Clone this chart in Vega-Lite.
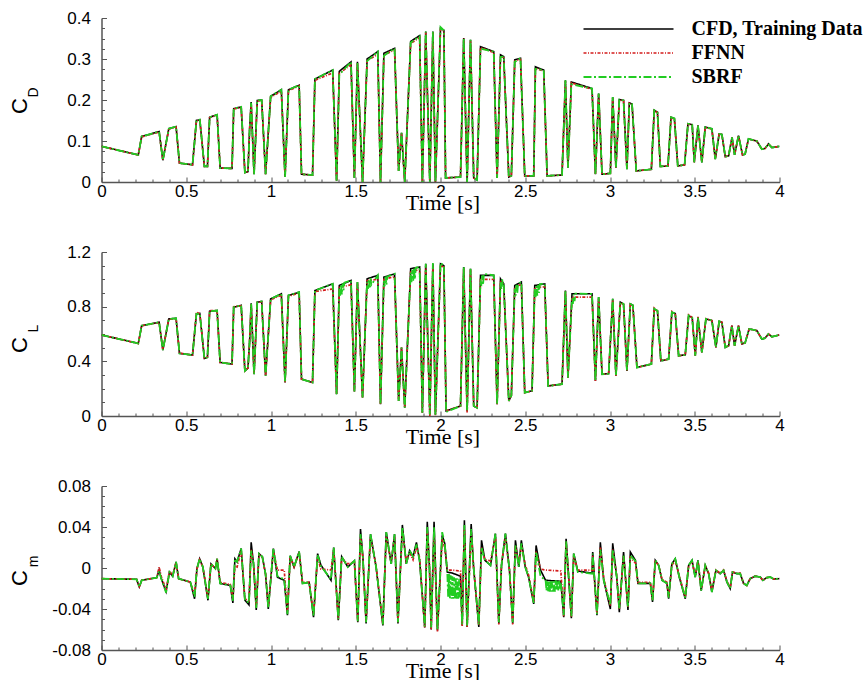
{
"$schema": "https://vega.github.io/schema/vega-lite/v6.json",
"background": "white",
"padding": {"left": 8.5, "top": 9, "right": 0, "bottom": 0},
"bounds": "flush",
"spacing": 70,
"config": {
  "view": {"stroke": null},
  "axis": {"domainColor": "#555555", "domainWidth": 1.5, "tickColor": "#555555", "tickWidth": 1, "labelColor": "black", "titleColor": "black", "grid": false, "labelFont": "Liberation Sans", "labelFontSize": 17, "titleFont": "Liberation Sans", "titleFontWeight": "normal", "labelFlush": false, "labelOverlap": false}
},
"datasets": {
"cd": [
{"t":0,"c":0.087,"f":0.087,"s":0.087},
{"t":0.217,"c":0.066,"f":0.066,"s":0.066},
{"t":0.237,"c":0.111,"f":0.11,"s":0.111},
{"t":0.34,"c":0.123,"f":0.122,"s":0.123},
{"t":0.362,"c":0.053,"f":0.054,"s":0.053},
{"t":0.397,"c":0.13,"f":0.129,"s":0.13},
{"t":0.44,"c":0.135,"f":0.134,"s":0.135},
{"t":0.46,"c":0.046,"f":0.046,"s":0.046},
{"t":0.537,"c":0.042,"f":0.042,"s":0.042},
{"t":0.56,"c":0.15,"f":0.149,"s":0.15},
{"t":0.58,"c":0.152,"f":0.151,"s":0.152},
{"t":0.607,"c":0.038,"f":0.038,"s":0.038},
{"t":0.625,"c":0.038,"f":0.038,"s":0.038},
{"t":0.638,"c":0.158,"f":0.157,"s":0.158},
{"t":0.682,"c":0.164,"f":0.163,"s":0.164},
{"t":0.7,"c":0.034,"f":0.034,"s":0.034},
{"t":0.77,"c":0.033,"f":0.033,"s":0.033},
{"t":0.78,"c":0.179,"f":0.178,"s":0.179},
{"t":0.824,"c":0.183,"f":0.182,"s":0.183},
{"t":0.846,"c":0.023,"f":0.023,"s":0.023},
{"t":0.864,"c":0.025,"f":0.025,"s":0.025},
{"t":0.874,"c":0.13,"f":0.13,"s":0.13},
{"t":0.883,"c":0.195,"f":0.19,"s":0.193},
{"t":0.9,"c":0.019,"f":0.019,"s":0.019},
{"t":0.919,"c":0.199,"f":0.197,"s":0.199},
{"t":0.945,"c":0.2,"f":0.199,"s":0.2},
{"t":0.968,"c":0.019,"f":0.019,"s":0.019},
{"t":0.998,"c":0.209,"f":0.207,"s":0.209},
{"t":1.061,"c":0.225,"f":0.221,"s":0.225},
{"t":1.083,"c":0.012,"f":0.012,"s":0.012},
{"t":1.103,"c":0.225,"f":0.223,"s":0.225},
{"t":1.166,"c":0.236,"f":0.234,"s":0.236},
{"t":1.18,"c":0.019,"f":0.019,"s":0.019},
{"t":1.245,"c":0.017,"f":0.017,"s":0.017},
{"t":1.259,"c":0.251,"f":0.248,"s":0.251},
{"t":1.364,"c":0.273,"f":0.266,"s":0.273},
{"t":1.387,"c":0.003,"f":0.004,"s":0.003},
{"t":1.403,"c":0.27,"f":0.265,"s":0.262},
{"t":1.472,"c":0.293,"f":0.286,"s":0.293},
{"t":1.492,"c":0.01,"f":0.01,"s":0.01},
{"t":1.51,"c":0.293,"f":0.29,"s":0.29},
{"t":1.54,"c":0.0,"f":0.0,"s":0.0},
{"t":1.567,"c":0.3,"f":0.296,"s":0.295},
{"t":1.63,"c":0.318,"f":0.311,"s":0.318},
{"t":1.646,"c":0.0,"f":0.0,"s":0.0},
{"t":1.666,"c":0.314,"f":0.31,"s":0.308},
{"t":1.729,"c":0.326,"f":0.322,"s":0.326},
{"t":1.753,"c":0.027,"f":0.027,"s":0.027},
{"t":1.77,"c":0.12,"f":0.12,"s":0.12},
{"t":1.789,"c":0.0,"f":0.0,"s":0.0},
{"t":1.824,"c":0.343,"f":0.338,"s":0.34},
{"t":1.877,"c":0.357,"f":0.352,"s":0.355},
{"t":1.893,"c":0.0,"f":0.0,"s":0.0},
{"t":1.913,"c":0.367,"f":0.365,"s":0.367},
{"t":1.937,"c":0.0,"f":0.0,"s":0.0},
{"t":1.955,"c":0.367,"f":0.365,"s":0.367},
{"t":1.97,"c":0.0,"f":0.0,"s":0.0},
{"t":2.0,"c":0.375,"f":0.372,"s":0.378},
{"t":2.02,"c":0.37,"f":0.368,"s":0.37},
{"t":2.03,"c":0.01,"f":0.01,"s":0.01},
{"t":2.118,"c":0.012,"f":0.012,"s":0.012},
{"t":2.137,"c":0.351,"f":0.35,"s":0.351},
{"t":2.157,"c":0.0,"f":0.0,"s":0.0},
{"t":2.177,"c":0.347,"f":0.345,"s":0.347},
{"t":2.196,"c":0.01,"f":0.01,"s":0.01},
{"t":2.216,"c":0.005,"f":0.005,"s":0.005},
{"t":2.236,"c":0.33,"f":0.328,"s":0.325},
{"t":2.314,"c":0.318,"f":0.316,"s":0.318},
{"t":2.334,"c":0.01,"f":0.01,"s":0.01},
{"t":2.354,"c":0.31,"f":0.307,"s":0.305},
{"t":2.373,"c":0.306,"f":0.303,"s":0.306},
{"t":2.403,"c":0.012,"f":0.012,"s":0.012},
{"t":2.418,"c":0.015,"f":0.015,"s":0.015},
{"t":2.438,"c":0.298,"f":0.295,"s":0.293},
{"t":2.472,"c":0.302,"f":0.299,"s":0.302},
{"t":2.497,"c":0.015,"f":0.015,"s":0.015},
{"t":2.55,"c":0.015,"f":0.015,"s":0.015},
{"t":2.56,"c":0.281,"f":0.278,"s":0.276},
{"t":2.609,"c":0.273,"f":0.27,"s":0.273},
{"t":2.629,"c":0.015,"f":0.015,"s":0.015},
{"t":2.717,"c":0.017,"f":0.017,"s":0.017},
{"t":2.737,"c":0.248,"f":0.246,"s":0.248},
{"t":2.752,"c":0.035,"f":0.035,"s":0.035},
{"t":2.772,"c":0.244,"f":0.242,"s":0.238},
{"t":2.894,"c":0.228,"f":0.226,"s":0.228},
{"t":2.914,"c":0.019,"f":0.019,"s":0.019},
{"t":2.933,"c":0.216,"f":0.214,"s":0.216},
{"t":2.953,"c":0.019,"f":0.019,"s":0.019},
{"t":3.002,"c":0.021,"f":0.021,"s":0.021},
{"t":3.016,"c":0.207,"f":0.205,"s":0.207},
{"t":3.035,"c":0.035,"f":0.035,"s":0.035},
{"t":3.055,"c":0.201,"f":0.2,"s":0.201},
{"t":3.08,"c":0.199,"f":0.198,"s":0.199},
{"t":3.1,"c":0.031,"f":0.031,"s":0.031},
{"t":3.114,"c":0.193,"f":0.192,"s":0.193},
{"t":3.13,"c":0.19,"f":0.189,"s":0.19},
{"t":3.155,"c":0.027,"f":0.027,"s":0.027},
{"t":3.244,"c":0.031,"f":0.031,"s":0.031},
{"t":3.261,"c":0.175,"f":0.174,"s":0.175},
{"t":3.28,"c":0.17,"f":0.169,"s":0.17},
{"t":3.297,"c":0.038,"f":0.038,"s":0.038},
{"t":3.342,"c":0.039,"f":0.039,"s":0.039},
{"t":3.36,"c":0.158,"f":0.157,"s":0.158},
{"t":3.38,"c":0.155,"f":0.154,"s":0.155},
{"t":3.4,"c":0.039,"f":0.039,"s":0.039},
{"t":3.44,"c":0.042,"f":0.042,"s":0.042},
{"t":3.46,"c":0.142,"f":0.141,"s":0.142},
{"t":3.485,"c":0.14,"f":0.139,"s":0.14},
{"t":3.497,"c":0.048,"f":0.048,"s":0.048},
{"t":3.519,"c":0.138,"f":0.137,"s":0.138},
{"t":3.542,"c":0.048,"f":0.048,"s":0.048},
{"t":3.562,"c":0.134,"f":0.133,"s":0.134},
{"t":3.601,"c":0.13,"f":0.129,"s":0.13},
{"t":3.621,"c":0.056,"f":0.056,"s":0.056},
{"t":3.644,"c":0.117,"f":0.117,"s":0.117},
{"t":3.66,"c":0.116,"f":0.116,"s":0.116},
{"t":3.68,"c":0.062,"f":0.062,"s":0.062},
{"t":3.7,"c":0.064,"f":0.064,"s":0.064},
{"t":3.72,"c":0.109,"f":0.109,"s":0.109},
{"t":3.735,"c":0.066,"f":0.066,"s":0.066},
{"t":3.758,"c":0.113,"f":0.113,"s":0.113},
{"t":3.782,"c":0.066,"f":0.066,"s":0.066},
{"t":3.797,"c":0.068,"f":0.068,"s":0.068},
{"t":3.817,"c":0.105,"f":0.105,"s":0.105},
{"t":3.866,"c":0.1,"f":0.1,"s":0.1},
{"t":3.896,"c":0.08,"f":0.08,"s":0.08},
{"t":3.915,"c":0.082,"f":0.082,"s":0.082},
{"t":3.935,"c":0.093,"f":0.093,"s":0.093},
{"t":3.955,"c":0.084,"f":0.084,"s":0.084},
{"t":4.0,"c":0.087,"f":0.087,"s":0.087}
],
"cl": [
{"t":0,"c":0.593,"f":0.593,"s":0.593},
{"t":0.217,"c":0.531,"f":0.531,"s":0.531},
{"t":0.237,"c":0.661,"f":0.66,"s":0.661},
{"t":0.34,"c":0.686,"f":0.684,"s":0.686},
{"t":0.362,"c":0.482,"f":0.485,"s":0.482},
{"t":0.397,"c":0.71,"f":0.708,"s":0.71},
{"t":0.44,"c":0.715,"f":0.713,"s":0.715},
{"t":0.46,"c":0.458,"f":0.46,"s":0.458},
{"t":0.537,"c":0.446,"f":0.446,"s":0.446},
{"t":0.56,"c":0.747,"f":0.76,"s":0.747},
{"t":0.58,"c":0.75,"f":0.748,"s":0.75},
{"t":0.607,"c":0.421,"f":0.425,"s":0.421},
{"t":0.625,"c":0.43,"f":0.43,"s":0.43},
{"t":0.638,"c":0.767,"f":0.772,"s":0.767},
{"t":0.682,"c":0.772,"f":0.77,"s":0.772},
{"t":0.7,"c":0.392,"f":0.392,"s":0.392},
{"t":0.77,"c":0.38,"f":0.38,"s":0.38},
{"t":0.78,"c":0.796,"f":0.8,"s":0.796},
{"t":0.824,"c":0.81,"f":0.805,"s":0.81},
{"t":0.846,"c":0.33,"f":0.33,"s":0.33},
{"t":0.864,"c":0.35,"f":0.35,"s":0.35},
{"t":0.874,"c":0.55,"f":0.55,"s":0.55},
{"t":0.883,"c":0.825,"f":0.82,"s":0.825},
{"t":0.9,"c":0.306,"f":0.306,"s":0.306},
{"t":0.919,"c":0.833,"f":0.83,"s":0.833},
{"t":0.945,"c":0.838,"f":0.835,"s":0.838},
{"t":0.968,"c":0.294,"f":0.294,"s":0.294},
{"t":0.998,"c":0.857,"f":0.85,"s":0.857},
{"t":1.061,"c":0.894,"f":0.885,"s":0.894},
{"t":1.083,"c":0.245,"f":0.245,"s":0.245},
{"t":1.103,"c":0.882,"f":0.876,"s":0.882},
{"t":1.166,"c":0.906,"f":0.9,"s":0.906},
{"t":1.18,"c":0.27,"f":0.27,"s":0.27},
{"t":1.245,"c":0.245,"f":0.245,"s":0.245},
{"t":1.259,"c":0.918,"f":0.91,"s":0.918},
{"t":1.364,"c":0.967,"f":0.93,"s":0.967},
{"t":1.387,"c":0.16,"f":0.16,"s":0.16},
{"t":1.403,"c":0.955,"f":0.94,"s":0.94},
{"t":1.408,"s":0.88},
{"t":1.413,"s":0.96},
{"t":1.418,"s":0.89},
{"t":1.423,"s":0.97},
{"t":1.428,"s":0.92},
{"t":1.433,"s":0.975},
{"t":1.472,"c":0.992,"f":0.96,"s":0.992},
{"t":1.492,"c":0.18,"f":0.18,"s":0.18},
{"t":1.51,"c":0.98,"f":0.97,"s":0.98},
{"t":1.54,"c":0.135,"f":0.135,"s":0.135},
{"t":1.567,"c":1.004,"f":0.99,"s":0.98},
{"t":1.572,"s":0.93},
{"t":1.577,"s":1.0},
{"t":1.582,"s":0.94},
{"t":1.587,"s":1.01},
{"t":1.592,"s":0.96},
{"t":1.63,"c":1.029,"f":1.0,"s":1.029},
{"t":1.646,"c":0.086,"f":0.086,"s":0.086},
{"t":1.666,"c":1.016,"f":1.0,"s":0.99},
{"t":1.671,"s":0.95},
{"t":1.676,"s":1.02},
{"t":1.681,"s":0.96},
{"t":1.686,"s":1.02},
{"t":1.729,"c":1.04,"f":1.02,"s":1.04},
{"t":1.753,"c":0.11,"f":0.11,"s":0.11},
{"t":1.77,"c":0.5,"f":0.5,"s":0.5},
{"t":1.789,"c":0.06,"f":0.06,"s":0.06},
{"t":1.824,"c":1.078,"f":1.06,"s":1.05},
{"t":1.829,"s":0.98},
{"t":1.834,"s":1.07},
{"t":1.839,"s":0.99},
{"t":1.844,"s":1.08},
{"t":1.849,"s":1.0},
{"t":1.854,"s":1.085},
{"t":1.877,"c":1.09,"f":1.07,"s":1.09},
{"t":1.893,"c":0.024,"f":0.024,"s":0.024},
{"t":1.913,"c":1.114,"f":1.1,"s":1.114},
{"t":1.937,"c":0.012,"f":-0.01,"s":0.012},
{"t":1.955,"c":1.114,"f":1.1,"s":1.12},
{"t":1.97,"c":0.01,"f":-0.01,"s":0.01},
{"t":2.0,"c":1.114,"f":1.1,"s":1.12},
{"t":2.02,"c":1.1,"f":1.09,"s":1.1},
{"t":2.033,"c":0.037,"f":0.037,"s":0.03},
{"t":2.118,"c":0.073,"f":0.073,"s":0.073},
{"t":2.137,"c":1.09,"f":1.08,"s":1.09},
{"t":2.157,"c":0.037,"f":0.02,"s":0.037},
{"t":2.177,"c":1.078,"f":1.07,"s":1.078},
{"t":2.196,"c":0.073,"f":0.073,"s":0.073},
{"t":2.216,"c":0.06,"f":0.06,"s":0.06},
{"t":2.236,"c":1.029,"f":1.0,"s":1.0},
{"t":2.241,"s":0.95},
{"t":2.246,"s":1.03},
{"t":2.251,"s":0.96},
{"t":2.256,"s":1.04},
{"t":2.314,"c":1.029,"f":1.0,"s":1.029},
{"t":2.334,"c":0.086,"f":0.086,"s":0.086},
{"t":2.354,"c":1.004,"f":0.99,"s":0.98},
{"t":2.359,"s":0.93},
{"t":2.364,"s":1.0},
{"t":2.369,"s":0.94},
{"t":2.373,"c":0.967,"f":0.96,"s":0.967},
{"t":2.403,"c":0.11,"f":0.11,"s":0.11},
{"t":2.418,"c":0.15,"f":0.15,"s":0.15},
{"t":2.438,"c":0.955,"f":0.94,"s":0.93},
{"t":2.443,"s":0.88},
{"t":2.448,"s":0.96},
{"t":2.453,"s":0.9},
{"t":2.458,"s":0.97},
{"t":2.477,"c":0.98,"f":0.965,"s":0.98},
{"t":2.497,"c":0.171,"f":0.171,"s":0.171},
{"t":2.54,"c":0.184,"f":0.184,"s":0.184},
{"t":2.556,"c":0.955,"f":0.94,"s":0.93},
{"t":2.561,"s":0.87},
{"t":2.566,"s":0.95},
{"t":2.571,"s":0.88},
{"t":2.576,"s":0.96},
{"t":2.581,"s":0.9},
{"t":2.586,"s":0.965},
{"t":2.615,"c":0.967,"f":0.945,"s":0.967},
{"t":2.635,"c":0.22,"f":0.22,"s":0.22},
{"t":2.717,"c":0.233,"f":0.233,"s":0.233},
{"t":2.737,"c":0.918,"f":0.91,"s":0.918},
{"t":2.752,"c":0.28,"f":0.28,"s":0.28},
{"t":2.776,"c":0.894,"f":0.87,"s":0.86},
{"t":2.781,"s":0.82},
{"t":2.786,"s":0.89},
{"t":2.791,"s":0.84},
{"t":2.796,"s":0.895},
{"t":2.894,"c":0.894,"f":0.87,"s":0.894},
{"t":2.914,"c":0.257,"f":0.257,"s":0.257},
{"t":2.933,"c":0.87,"f":0.86,"s":0.87},
{"t":2.953,"c":0.306,"f":0.306,"s":0.306},
{"t":2.992,"c":0.31,"f":0.31,"s":0.31},
{"t":3.016,"c":0.857,"f":0.85,"s":0.857},
{"t":3.035,"c":0.294,"f":0.294,"s":0.294},
{"t":3.061,"c":0.833,"f":0.83,"s":0.833},
{"t":3.08,"c":0.82,"f":0.815,"s":0.82},
{"t":3.1,"c":0.33,"f":0.33,"s":0.33},
{"t":3.12,"c":0.82,"f":0.815,"s":0.82},
{"t":3.135,"c":0.81,"f":0.805,"s":0.81},
{"t":3.159,"c":0.355,"f":0.355,"s":0.355},
{"t":3.244,"c":0.38,"f":0.38,"s":0.38},
{"t":3.261,"c":0.784,"f":0.79,"s":0.784},
{"t":3.28,"c":0.77,"f":0.768,"s":0.77},
{"t":3.3,"c":0.404,"f":0.404,"s":0.404},
{"t":3.346,"c":0.416,"f":0.416,"s":0.416},
{"t":3.365,"c":0.759,"f":0.765,"s":0.759},
{"t":3.385,"c":0.75,"f":0.748,"s":0.75},
{"t":3.405,"c":0.441,"f":0.441,"s":0.441},
{"t":3.444,"c":0.448,"f":0.448,"s":0.448},
{"t":3.464,"c":0.735,"f":0.74,"s":0.735},
{"t":3.485,"c":0.72,"f":0.72,"s":0.72},
{"t":3.503,"c":0.441,"f":0.441,"s":0.441},
{"t":3.519,"c":0.722,"f":0.725,"s":0.722},
{"t":3.542,"c":0.465,"f":0.465,"s":0.465},
{"t":3.566,"c":0.71,"f":0.712,"s":0.71},
{"t":3.601,"c":0.698,"f":0.698,"s":0.698},
{"t":3.625,"c":0.502,"f":0.502,"s":0.502},
{"t":3.644,"c":0.693,"f":0.693,"s":0.693},
{"t":3.66,"c":0.686,"f":0.686,"s":0.686},
{"t":3.68,"c":0.502,"f":0.502,"s":0.502},
{"t":3.7,"c":0.515,"f":0.515,"s":0.515},
{"t":3.719,"c":0.661,"f":0.661,"s":0.661},
{"t":3.735,"c":0.514,"f":0.514,"s":0.514},
{"t":3.758,"c":0.661,"f":0.661,"s":0.661},
{"t":3.778,"c":0.527,"f":0.527,"s":0.527},
{"t":3.797,"c":0.535,"f":0.535,"s":0.535},
{"t":3.821,"c":0.637,"f":0.637,"s":0.637},
{"t":3.866,"c":0.625,"f":0.625,"s":0.625},
{"t":3.896,"c":0.563,"f":0.563,"s":0.563},
{"t":3.915,"c":0.57,"f":0.57,"s":0.57},
{"t":3.935,"c":0.6,"f":0.6,"s":0.6},
{"t":3.955,"c":0.58,"f":0.58,"s":0.58},
{"t":4.0,"c":0.593,"f":0.593,"s":0.593}
],
"cm": [
{"t":0,"c":-0.0104,"f":-0.0104,"s":-0.0104},
{"t":0.207,"c":-0.011,"f":-0.011,"s":-0.011},
{"t":0.223,"c":-0.0185,"f":-0.018,"s":-0.0185},
{"t":0.237,"c":-0.012,"f":-0.012,"s":-0.012},
{"t":0.326,"c":-0.0094,"f":-0.0094,"s":-0.0094},
{"t":0.34,"c":-0.002,"f":0.001,"s":-0.003},
{"t":0.352,"c":-0.01,"f":-0.008,"s":-0.01},
{"t":0.381,"c":-0.023,"f":-0.021,"s":-0.024},
{"t":0.401,"c":-0.004,"f":-0.003,"s":-0.004},
{"t":0.42,"c":-0.008,"f":-0.007,"s":-0.008},
{"t":0.44,"c":0.006,"f":0.005,"s":0.006},
{"t":0.455,"c":-0.0104,"f":-0.0104,"s":-0.0104},
{"t":0.524,"c":-0.0137,"f":-0.0137,"s":-0.0137},
{"t":0.549,"c":-0.03,"f":-0.026,"s":-0.028},
{"t":0.563,"c":-0.0007,"f":-0.001,"s":-0.0007},
{"t":0.579,"c":0.009,"f":0.008,"s":0.009},
{"t":0.598,"c":0.001,"f":0.001,"s":0.001},
{"t":0.628,"c":-0.0315,"f":-0.029,"s":-0.03},
{"t":0.646,"c":0.004,"f":0.004,"s":0.004},
{"t":0.672,"c":-0.0005,"f":-0.0005,"s":-0.0005},
{"t":0.682,"c":0.009,"f":0.009,"s":0.009},
{"t":0.7,"c":-0.015,"f":-0.014,"s":-0.015},
{"t":0.76,"c":-0.017,"f":-0.016,"s":-0.017},
{"t":0.775,"c":-0.034,"f":-0.03,"s":-0.032},
{"t":0.787,"c":0.009,"f":0.002,"s":0.009},
{"t":0.8,"c":0.006,"f":0.001,"s":0.006},
{"t":0.824,"c":0.019,"f":0.017,"s":0.019},
{"t":0.846,"c":-0.0315,"f":-0.03,"s":-0.031},
{"t":0.87,"c":-0.036,"f":-0.032,"s":-0.034},
{"t":0.883,"c":0.025,"f":0.018,"s":0.017},
{"t":0.897,"c":0.004,"f":0.004,"s":0.004},
{"t":0.913,"c":-0.041,"f":-0.038,"s":-0.039},
{"t":0.929,"c":0.014,"f":0.013,"s":0.014},
{"t":0.949,"c":0.011,"f":0.01,"s":0.011},
{"t":0.968,"c":-0.006,"f":-0.006,"s":-0.006},
{"t":0.984,"c":-0.04,"f":-0.037,"s":-0.039},
{"t":1.014,"c":0.019,"f":0.017,"s":0.019},
{"t":1.038,"c":-0.009,"f":-0.002,"s":-0.008},
{"t":1.078,"c":-0.012,"f":-0.002,"s":-0.011},
{"t":1.097,"c":-0.046,"f":-0.043,"s":-0.045},
{"t":1.113,"c":0.012,"f":0.011,"s":0.012},
{"t":1.136,"c":0.001,"f":0.001,"s":0.001},
{"t":1.166,"c":0.016,"f":0.015,"s":0.016},
{"t":1.186,"c":-0.015,"f":-0.014,"s":-0.015},
{"t":1.225,"c":-0.014,"f":-0.014,"s":-0.014},
{"t":1.251,"c":-0.048,"f":-0.045,"s":-0.047},
{"t":1.275,"c":0.014,"f":0.01,"s":0.013},
{"t":1.294,"c":0.003,"f":-0.001,"s":0.002},
{"t":1.354,"c":-0.012,"f":-0.002,"s":-0.011},
{"t":1.37,"c":0.02,"f":0.018,"s":0.02},
{"t":1.397,"c":-0.051,"f":-0.05,"s":-0.05},
{"t":1.417,"c":0.011,"f":0.01,"s":0.011},
{"t":1.453,"c":0.001,"f":0.004,"s":0.001},
{"t":1.492,"c":0.007,"f":0.006,"s":0.007},
{"t":1.512,"c":-0.053,"f":-0.052,"s":-0.052},
{"t":1.528,"c":0.038,"f":0.03,"s":0.033},
{"t":1.542,"c":0.011,"f":0.01,"s":0.011},
{"t":1.561,"c":-0.054,"f":-0.053,"s":-0.053},
{"t":1.587,"c":0.033,"f":0.03,"s":0.033},
{"t":1.62,"c":0.001,"f":0.002,"s":0.001},
{"t":1.66,"c":-0.056,"f":-0.055,"s":-0.055},
{"t":1.68,"c":0.035,"f":0.03,"s":0.035},
{"t":1.709,"c":0.004,"f":0.006,"s":0.004},
{"t":1.729,"c":0.033,"f":0.03,"s":0.033},
{"t":1.749,"c":-0.054,"f":-0.053,"s":-0.053},
{"t":1.775,"c":0.042,"f":0.036,"s":0.04},
{"t":1.798,"c":0.004,"f":0.007,"s":0.004},
{"t":1.818,"c":0.017,"f":0.015,"s":0.017},
{"t":1.838,"c":0.011,"f":0.008,"s":0.011},
{"t":1.858,"c":0.025,"f":0.02,"s":0.023},
{"t":1.877,"c":0.007,"f":0.01,"s":0.007},
{"t":1.907,"c":-0.058,"f":-0.058,"s":-0.057},
{"t":1.922,"c":0.045,"f":0.035,"s":0.04},
{"t":1.935,"c":0.0,"f":0.003,"s":0.0},
{"t":1.945,"c":-0.06,"f":-0.06,"s":-0.058},
{"t":1.962,"c":0.045,"f":0.035,"s":0.04},
{"t":1.982,"c":-0.061,"f":-0.062,"s":-0.06},
{"t":2.01,"c":0.032,"f":0.028,"s":0.035},
{"t":2.025,"c":0.024,"f":0.02,"s":0.024},
{"t":2.04,"c":-0.004,"f":-0.002,"s":-0.004},
{"t":2.045,"s":-0.028},
{"t":2.05,"s":-0.006},
{"t":2.055,"s":-0.03},
{"t":2.06,"s":-0.007},
{"t":2.065,"s":-0.03},
{"t":2.07,"c":-0.005,"f":-0.002,"s":-0.008},
{"t":2.075,"s":-0.03},
{"t":2.08,"s":-0.009},
{"t":2.085,"s":-0.03},
{"t":2.09,"s":-0.01},
{"t":2.095,"s":-0.03},
{"t":2.1,"s":-0.01},
{"t":2.105,"s":-0.03},
{"t":2.11,"s":-0.011},
{"t":2.115,"s":-0.029},
{"t":2.118,"c":-0.008,"f":-0.003,"s":-0.02},
{"t":2.128,"c":-0.056,"f":-0.057,"s":-0.055},
{"t":2.141,"c":0.0465,"f":0.038,"s":0.042},
{"t":2.157,"c":-0.0575,"f":-0.058,"s":-0.056},
{"t":2.181,"c":0.043,"f":0.035,"s":0.038},
{"t":2.195,"c":0.001,"f":0.001,"s":0.001},
{"t":2.226,"c":-0.0575,"f":-0.056,"s":-0.055},
{"t":2.242,"c":0.027,"f":0.02,"s":0.02},
{"t":2.262,"c":0.0075,"f":0.008,"s":0.0075},
{"t":2.295,"c":0.0026,"f":0.007,"s":0.0026},
{"t":2.324,"c":0.0335,"f":0.03,"s":0.0335},
{"t":2.344,"c":-0.054,"f":-0.055,"s":-0.053},
{"t":2.36,"c":0.0026,"f":0.004,"s":0.0026},
{"t":2.383,"c":0.0335,"f":0.03,"s":0.0335},
{"t":2.407,"c":-0.0023,"f":-0.002,"s":-0.0023},
{"t":2.426,"c":-0.054,"f":-0.055,"s":-0.053},
{"t":2.442,"c":0.027,"f":0.022,"s":0.022},
{"t":2.462,"c":0.001,"f":0.004,"s":0.001},
{"t":2.477,"c":0.027,"f":0.022,"s":0.024},
{"t":2.5,"c":0.001,"f":0.003,"s":0.001},
{"t":2.52,"c":-0.009,"f":-0.007,"s":-0.009},
{"t":2.55,"c":-0.035,"f":-0.033,"s":-0.034},
{"t":2.564,"c":0.022,"f":0.016,"s":0.016},
{"t":2.59,"c":-0.002,"f":-0.001,"s":-0.008},
{"t":2.62,"c":-0.012,"f":-0.002,"s":-0.012},
{"t":2.625,"s":-0.022},
{"t":2.63,"s":-0.013},
{"t":2.635,"s":-0.023},
{"t":2.64,"s":-0.013},
{"t":2.645,"s":-0.023},
{"t":2.65,"s":-0.013},
{"t":2.655,"s":-0.023},
{"t":2.66,"s":-0.013},
{"t":2.665,"s":-0.023},
{"t":2.67,"s":-0.013},
{"t":2.675,"s":-0.023},
{"t":2.68,"s":-0.012},
{"t":2.685,"s":-0.022},
{"t":2.69,"s":-0.012},
{"t":2.695,"s":-0.022},
{"t":2.7,"s":-0.012},
{"t":2.705,"s":-0.021},
{"t":2.71,"c":-0.013,"f":-0.003,"s":-0.015},
{"t":2.727,"c":-0.048,"f":-0.047,"s":-0.046},
{"t":2.741,"c":0.0286,"f":0.025,"s":0.026},
{"t":2.756,"c":-0.009,"f":-0.008,"s":-0.009},
{"t":2.772,"c":-0.049,"f":-0.048,"s":-0.047},
{"t":2.786,"c":0.014,"f":0.011,"s":0.014},
{"t":2.81,"c":-0.003,"f":-0.002,"s":-0.004},
{"t":2.894,"c":-0.005,"f":-0.002,"s":-0.0055},
{"t":2.898,"c":0.0156,"f":0.012,"s":0.014},
{"t":2.923,"c":-0.046,"f":-0.045,"s":-0.045},
{"t":2.943,"c":0.025,"f":0.02,"s":0.018},
{"t":2.963,"c":-0.012,"f":-0.01,"s":-0.012},
{"t":3.002,"c":-0.04,"f":-0.037,"s":-0.036},
{"t":3.016,"c":0.024,"f":0.018,"s":0.018},
{"t":3.04,"c":-0.009,"f":-0.008,"s":-0.009},
{"t":3.055,"c":-0.043,"f":-0.04,"s":-0.04},
{"t":3.08,"c":0.0156,"f":0.012,"s":0.012},
{"t":3.106,"c":-0.041,"f":-0.038,"s":-0.038},
{"t":3.12,"c":0.0156,"f":0.01,"s":0.012},
{"t":3.15,"c":0.0075,"f":0.005,"s":0.007},
{"t":3.165,"c":-0.015,"f":-0.014,"s":-0.015},
{"t":3.238,"c":-0.015,"f":-0.014,"s":-0.015},
{"t":3.251,"c":-0.033,"f":-0.031,"s":-0.032},
{"t":3.267,"c":0.0075,"f":0.006,"s":0.0075},
{"t":3.287,"c":0.0026,"f":0.003,"s":0.0026},
{"t":3.307,"c":-0.012,"f":-0.011,"s":-0.012},
{"t":3.336,"c":-0.015,"f":-0.014,"s":-0.015},
{"t":3.346,"c":-0.03,"f":-0.028,"s":-0.029},
{"t":3.365,"c":0.004,"f":0.003,"s":0.004},
{"t":3.385,"c":0.009,"f":0.007,"s":0.009},
{"t":3.409,"c":-0.009,"f":-0.008,"s":-0.009},
{"t":3.444,"c":-0.03,"f":-0.028,"s":-0.029},
{"t":3.464,"c":0.0026,"f":0.002,"s":0.0026},
{"t":3.484,"c":0.0075,"f":0.006,"s":0.0075},
{"t":3.503,"c":-0.009,"f":-0.008,"s":-0.009},
{"t":3.519,"c":0.0075,"f":0.007,"s":0.0075},
{"t":3.538,"c":-0.022,"f":-0.021,"s":-0.022},
{"t":3.562,"c":0.0026,"f":0.002,"s":0.0026},
{"t":3.582,"c":-0.0055,"f":-0.005,"s":-0.0055},
{"t":3.601,"c":-0.0234,"f":-0.022,"s":-0.0234},
{"t":3.625,"c":-0.0023,"f":-0.002,"s":-0.0023},
{"t":3.65,"c":-0.0055,"f":-0.005,"s":-0.0055},
{"t":3.67,"c":-0.0023,"f":-0.002,"s":-0.0023},
{"t":3.69,"c":-0.0137,"f":-0.013,"s":-0.0137},
{"t":3.709,"c":-0.02,"f":-0.019,"s":-0.02},
{"t":3.723,"c":-0.004,"f":-0.004,"s":-0.004},
{"t":3.748,"c":-0.0055,"f":-0.005,"s":-0.0055},
{"t":3.768,"c":-0.0055,"f":-0.005,"s":-0.0055},
{"t":3.788,"c":-0.015,"f":-0.015,"s":-0.015},
{"t":3.807,"c":-0.017,"f":-0.017,"s":-0.017},
{"t":3.827,"c":-0.0104,"f":-0.0104,"s":-0.0104},
{"t":3.856,"c":-0.008,"f":-0.008,"s":-0.008},
{"t":3.886,"c":-0.0088,"f":-0.0088,"s":-0.0088},
{"t":3.902,"c":-0.012,"f":-0.012,"s":-0.012},
{"t":3.925,"c":-0.0094,"f":-0.0094,"s":-0.0094},
{"t":3.945,"c":-0.0088,"f":-0.0088,"s":-0.0088},
{"t":3.965,"c":-0.0107,"f":-0.0107,"s":-0.0107},
{"t":4.0,"c":-0.0104,"f":-0.0104,"s":-0.0104}
]
},
"vconcat": [
{
 "width": 678, "height": 164,
 "data": {"name": "cd"},
 "layer": [
  {
   "transform": [{"fold": ["c","f","s"], "as": ["k","v"]}, {"filter": "isValid(datum.v)"}],
   "mark": {"type": "line", "clip": true},
   "encoding": {
    "x": {"field": "t", "type": "quantitative", "scale": {"domain": [0,4], "nice": false}, "axis": {"values": [0,0.5,1,1.5,2,2.5,3,3.5,4], "labelExpr": "format(datum.value, '~g')", "tickSize": -5, "labelPadding": 6, "title": "Time [s]", "titleFont": "Liberation Serif", "titleFontSize": 22, "titleX": 341, "titleY": 27, "titleAlign": "center", "titleBaseline": "alphabetic"}},
    "y": {"field": "v", "type": "quantitative", "scale": {"domain": [0,0.4], "nice": false}, "axis": {"values": [0,0.1,0.2,0.3,0.4], "labelExpr": "format(datum.value, '~g')", "tickSize": -5, "labelPadding": 16, "title": "C", "titleFontSize": 22, "titleX": -82, "titleY": 87.5, "titleAlign": "center", "titleBaseline": "middle"}},
    "color": {"field": "k", "type": "nominal", "scale": {"domain": ["c","f","s"], "range": ["#000000","#d41c1c","#22cc22"]}, "legend": {"title": null, "orient": "none", "legendX": 516, "legendY": 0, "symbolType": "M-4.5,0H4.5", "symbolSize": 400, "symbolStrokeWidth": 2.5, "labelFont": "Liberation Serif", "labelFontWeight": "bold", "labelFontSize": 20, "labelColor": "black", "labelOffset": 52, "labelLimit": 0, "rowPadding": 3, "labelExpr": "datum.label == 'c' ? 'CFD, Training Data' : datum.label == 'f' ? 'FFNN' : 'SBRF'"}},
    "strokeDash": {"field": "k", "type": "nominal", "scale": {"domain": ["c","f","s"], "range": [[1,0],[3,1.5,1,1.5],[8,2.5,2,2.5]]}, "legend": {"title": null, "orient": "none", "legendX": 516, "legendY": 0, "symbolType": "M-4.5,0H4.5", "symbolSize": 400, "symbolStrokeWidth": 2.5, "labelFont": "Liberation Serif", "labelFontWeight": "bold", "labelFontSize": 20, "labelColor": "black", "labelOffset": 52, "labelLimit": 0, "rowPadding": 3, "labelExpr": "datum.label == 'c' ? 'CFD, Training Data' : datum.label == 'f' ? 'FFNN' : 'SBRF'"}},
    "strokeWidth": {"field": "k", "type": "nominal", "scale": {"domain": ["c","f","s"], "range": [1.6,1.8,2.5]}, "legend": null}
   }
  },
  {
   "mark": {"type": "point", "opacity": 0},
   "encoding": {
    "x": {"field": "t", "type": "quantitative", "scale": {"domain": [0,4], "nice": false}, "axis": {"orient": "bottom", "values": [0.1,0.2,0.3,0.4,0.6,0.7,0.8,0.9,1.1,1.2,1.3,1.4,1.6,1.7,1.8,1.9,2.1,2.2,2.3,2.4,2.6,2.7,2.8,2.9,3.1,3.2,3.3,3.4,3.6,3.7,3.8,3.9], "labels": false, "domain": false, "tickSize": -3, "title": null}},
    "y": {"field": "c", "type": "quantitative", "scale": {"domain": [0,0.4], "nice": false}, "axis": {"orient": "left", "values": [0.025,0.05,0.075,0.125,0.15,0.175,0.225,0.25,0.275,0.325,0.35,0.375], "labels": false, "domain": false, "tickSize": -3, "title": "D", "titleFontSize": 14, "titleX": -68.5, "titleY": 74, "titleAlign": "center", "titleBaseline": "middle"}}
   }
  }
 ],
 "resolve": {"axis": {"x": "independent", "y": "independent"}}
},
{
 "width": 678, "height": 164,
 "data": {"name": "cl"},
 "layer": [
  {
   "transform": [{"fold": ["c","f","s"], "as": ["k","v"]}, {"filter": "isValid(datum.v)"}],
   "mark": {"type": "line", "clip": true},
   "encoding": {
    "x": {"field": "t", "type": "quantitative", "scale": {"domain": [0,4], "nice": false}, "axis": {"values": [0,0.5,1,1.5,2,2.5,3,3.5,4], "labelExpr": "format(datum.value, '~g')", "tickSize": -5, "labelPadding": 6, "title": "Time [s]", "titleFont": "Liberation Serif", "titleFontSize": 22, "titleX": 341, "titleY": 27, "titleAlign": "center", "titleBaseline": "alphabetic"}},
    "y": {"field": "v", "type": "quantitative", "scale": {"domain": [0,1.2], "nice": false}, "axis": {"values": [0,0.4,0.8,1.2], "labelExpr": "format(datum.value, '~g')", "tickSize": -5, "labelPadding": 16, "title": "C", "titleFontSize": 22, "titleX": -82, "titleY": 92.5, "titleAlign": "center", "titleBaseline": "middle"}},
    "color": {"field": "k", "type": "nominal", "scale": {"domain": ["c","f","s"], "range": ["#000000","#d41c1c","#22cc22"]}},
    "strokeDash": {"field": "k", "type": "nominal", "scale": {"domain": ["c","f","s"], "range": [[1,0],[3,1.5,1,1.5],[8,2.5,2,2.5]]}},
    "strokeWidth": {"field": "k", "type": "nominal", "scale": {"domain": ["c","f","s"], "range": [1.6,1.8,2.5]}, "legend": null}
   }
  },
  {
   "mark": {"type": "point", "opacity": 0},
   "encoding": {
    "x": {"field": "t", "type": "quantitative", "scale": {"domain": [0,4], "nice": false}, "axis": {"orient": "bottom", "values": [0.1,0.2,0.3,0.4,0.6,0.7,0.8,0.9,1.1,1.2,1.3,1.4,1.6,1.7,1.8,1.9,2.1,2.2,2.3,2.4,2.6,2.7,2.8,2.9,3.1,3.2,3.3,3.4,3.6,3.7,3.8,3.9], "labels": false, "domain": false, "tickSize": -3, "title": null}},
    "y": {"field": "c", "type": "quantitative", "scale": {"domain": [0,1.2], "nice": false}, "axis": {"orient": "left", "values": [0.1,0.2,0.3,0.5,0.6,0.7,0.9,1.0,1.1], "labels": false, "domain": false, "tickSize": -3, "title": "L", "titleFontSize": 14, "titleX": -68.5, "titleY": 76, "titleAlign": "center", "titleBaseline": "middle"}}
   }
  }
 ],
 "resolve": {"axis": {"x": "independent", "y": "independent"}}
},
{
 "width": 678, "height": 164,
 "data": {"name": "cm"},
 "layer": [
  {
   "transform": [{"fold": ["c","f","s"], "as": ["k","v"]}, {"filter": "isValid(datum.v)"}],
   "mark": {"type": "line", "clip": true},
   "encoding": {
    "x": {"field": "t", "type": "quantitative", "scale": {"domain": [0,4], "nice": false}, "axis": {"values": [0,0.5,1,1.5,2,2.5,3,3.5,4], "labelExpr": "format(datum.value, '~g')", "tickSize": -5, "labelPadding": 6, "title": "Time [s]", "titleFont": "Liberation Serif", "titleFontSize": 22, "titleX": 341, "titleY": 27, "titleAlign": "center", "titleBaseline": "alphabetic"}},
    "y": {"field": "v", "type": "quantitative", "scale": {"domain": [-0.08,0.08], "nice": false}, "axis": {"values": [-0.08,-0.04,0,0.04,0.08], "labelExpr": "datum.value < 0 ? '-' + format(-datum.value, '~g') : format(datum.value, '~g')", "tickSize": -5, "labelPadding": 16, "title": "C", "titleFontSize": 22, "titleX": -82, "titleY": 91.5, "titleAlign": "center", "titleBaseline": "middle"}},
    "color": {"field": "k", "type": "nominal", "scale": {"domain": ["c","f","s"], "range": ["#000000","#d41c1c","#22cc22"]}},
    "strokeDash": {"field": "k", "type": "nominal", "scale": {"domain": ["c","f","s"], "range": [[1,0],[3,1.5,1,1.5],[8,2.5,2,2.5]]}},
    "strokeWidth": {"field": "k", "type": "nominal", "scale": {"domain": ["c","f","s"], "range": [1.6,1.8,2.5]}, "legend": null}
   }
  },
  {
   "mark": {"type": "point", "opacity": 0},
   "encoding": {
    "x": {"field": "t", "type": "quantitative", "scale": {"domain": [0,4], "nice": false}, "axis": {"orient": "bottom", "values": [0.1,0.2,0.3,0.4,0.6,0.7,0.8,0.9,1.1,1.2,1.3,1.4,1.6,1.7,1.8,1.9,2.1,2.2,2.3,2.4,2.6,2.7,2.8,2.9,3.1,3.2,3.3,3.4,3.6,3.7,3.8,3.9], "labels": false, "domain": false, "tickSize": -3, "title": null}},
    "y": {"field": "c", "type": "quantitative", "scale": {"domain": [-0.08,0.08], "nice": false}, "axis": {"orient": "left", "values": [-0.07,-0.06,-0.05,-0.03,-0.02,-0.01,0.01,0.02,0.03,0.05,0.06,0.07], "labels": false, "domain": false, "tickSize": -3, "title": "m", "titleFontSize": 14, "titleX": -68.5, "titleY": 75, "titleAlign": "center", "titleBaseline": "middle"}}
   }
  }
 ],
 "resolve": {"axis": {"x": "independent", "y": "independent"}}
}
]
}
